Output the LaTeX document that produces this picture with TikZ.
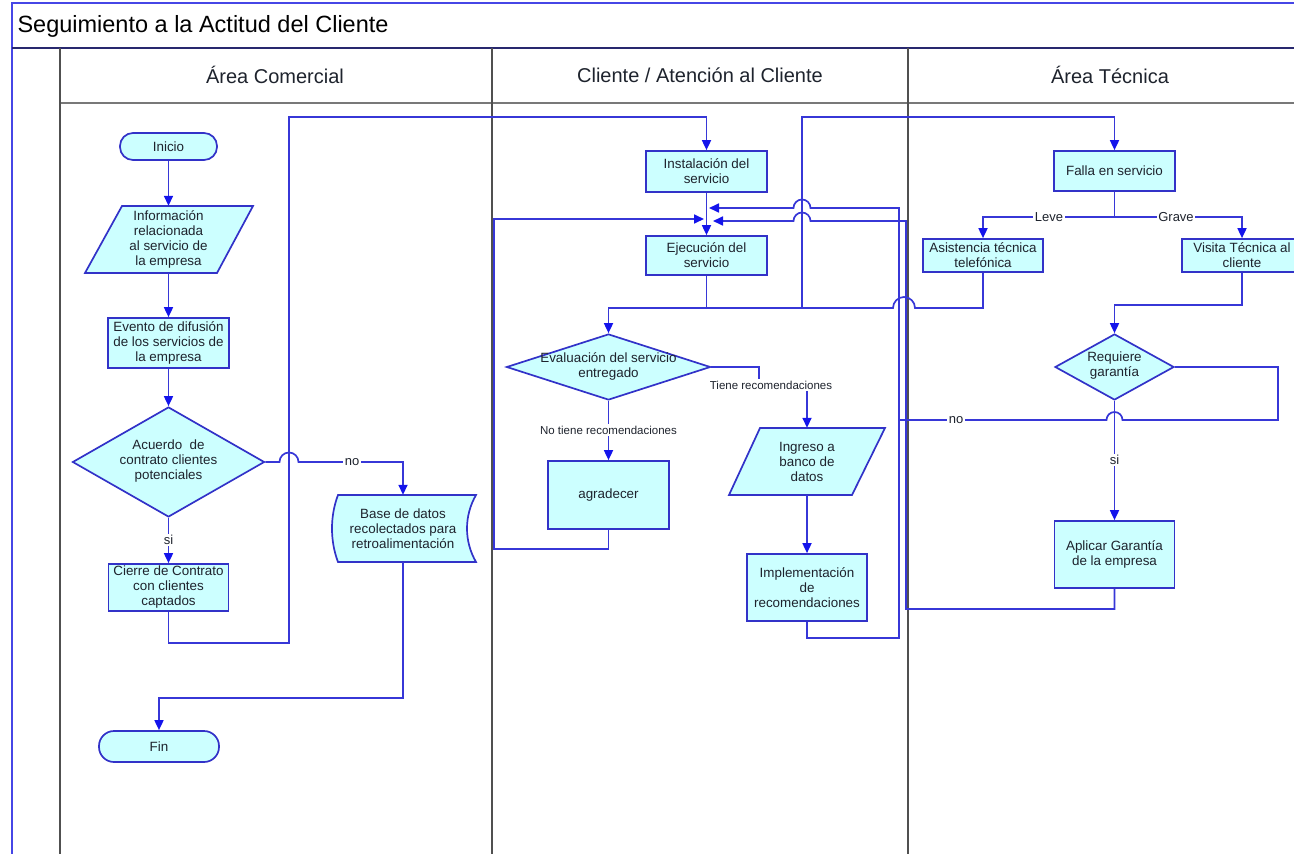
\documentclass[tikz,border=0pt]{standalone}
\usepackage{fontspec}
\setmainfont{Liberation Sans}
\usetikzlibrary{shapes.geometric,arrows.meta,calc}

\definecolor{boxfill}{RGB}{204,255,255}
\definecolor{boxline}{RGB}{50,50,200}
\definecolor{wire}{RGB}{55,55,215}
\definecolor{tipcol}{RGB}{20,20,235}
\definecolor{ink}{RGB}{30,35,45}
\definecolor{lanegray}{RGB}{80,80,80}
\definecolor{headgray}{RGB}{120,120,120}
\definecolor{frameblue}{RGB}{70,70,230}
\definecolor{navy}{RGB}{40,40,110}

\newcommand\boxfont{\fontsize{13.4}{15}\selectfont}
\newcommand\lblfont{\fontsize{13}{15}\selectfont}
\newcommand\smallfont{\fontsize{11.5}{13}\selectfont}

\begin{document}
\begin{tikzpicture}[x=1pt,y=-1pt,
  txt/.style={font=\boxfont, text=ink, align=center, inner sep=0pt},
  box/.style={txt, rectangle, draw=boxline, fill=boxfill, line width=1.7pt},
  term/.style={box, rounded corners=13pt},
  dia/.style={diamond, draw=boxline, fill=boxfill, line width=1.7pt, inner sep=0pt},
  shapeln/.style={draw=boxline, fill=boxfill, line width=1.7pt},
  ln/.style={draw=wire, line width=1.7pt},
  arr/.style={ln, -{Triangle[length=10pt,width=9pt,color=tipcol]}},
  lbl/.style={fill=white, inner sep=1.5pt, font=\lblfont, text=ink},
  slbl/.style={fill=white, inner sep=1.5pt, font=\smallfont, text=ink},
  head/.style={font=\fontsize{20}{23}\selectfont, text=ink}
]
\useasboundingbox (0,0) rectangle (1294,854);
\clip (0,0) rectangle (1294,854);

% ---- frame, title bar and swimlanes ----
\draw[frameblue, line width=1.5pt] (12,870) -- (12,3) -- (1310,3);
\draw[navy, line width=2pt] (12,48) -- (1310,48);
\draw[headgray, line width=1.5pt] (60,103) -- (1310,103);
\draw[lanegray, line width=2pt] (60,48) -- (60,870);
\draw[lanegray, line width=2pt] (492,48) -- (492,870);
\draw[lanegray, line width=2pt] (908,48) -- (908,870);

\node[anchor=west, font=\fontsize{23.5}{26}\selectfont, text=black] (title) at (14,26) {Seguimiento a la Actitud del Cliente};
\node[head] (laneA) at (275,75) {Área Comercial};
\node[head] (laneB) at (700,75) {Cliente / Atención al Cliente};
\node[head] (laneC) at (1110,75) {Área Técnica};

% ---- hand-drawn outlines (parallelograms, stored data) ----
\path[shapeln] (85,273) -- (217,273) -- (253,206) -- (122,206) -- cycle;
\path[shapeln] (729,495) -- (852,495) -- (885,428) -- (760,428) -- cycle;
\path[shapeln] (338,495) -- (476,495) .. controls (464,516) and (464,541) .. (476,562)
   -- (338,562) .. controls (330,541) and (330,516) .. (338,495) -- cycle;

% ---- Área Comercial ----
\node[term, minimum width=97pt, minimum height=27pt] (inicio) at (168.5,146.5) {Inicio};
\node[txt, minimum width=131pt, minimum height=67pt] (info) at (168.5,239.5)
  {Información\\relacionada\\al servicio de\\la empresa};
\node[box, minimum width=121pt, minimum height=50pt] (evento) at (168.5,343)
  {Evento de difusión\\de los servicios de\\la empresa};
\node[dia, minimum width=192pt, minimum height=110pt] (acuerdo) at (168.5,462) {};
\node[txt] (acuerdoT) at (168.5,461) {Acuerdo\ \ de\\contrato clientes\\potenciales};
\node[box, minimum width=120pt, minimum height=47pt] (cierre) at (168.5,587.5)
  {Cierre de Contrato\\con clientes\\captados};
\node[txt, minimum width=130pt, minimum height=67pt] (base) at (403,528.5)
  {Base de datos\\recolectados para\\retroalimentación};
\node[term, rounded corners=15pt, minimum width=120pt, minimum height=31pt] (fin) at (159,746.5) {Fin};

% ---- Cliente / Atención al Cliente ----
\node[box, minimum width=121pt, minimum height=41pt] (inst) at (706.5,171.5) {Instalación del\\servicio};
\node[box, minimum width=121pt, minimum height=39pt] (ejec) at (706.5,255.5) {Ejecución del\\servicio};
\node[dia, minimum width=204pt, minimum height=66pt] (eval) at (608.5,367) {};
\node[txt] (evalT) at (608.5,366.5) {Evaluación del servicio\\entregado};
\node[box, minimum width=121pt, minimum height=68pt] (agr) at (608.5,495) {agradecer};
\node[txt, minimum width=125pt, minimum height=67pt] (ingreso) at (807,461.5) {Ingreso a\\banco de\\datos};
\node[box, minimum width=120pt, minimum height=67pt] (impl) at (807,587.5)
  {Implementación\\de\\recomendaciones};

% ---- Área Técnica ----
\node[box, minimum width=121pt, minimum height=40pt] (falla) at (1114.5,171) {Falla en servicio};
\node[box, minimum width=120pt, minimum height=33pt] (asis) at (983,255.5) {Asistencia técnica\\telefónica};
\node[box, minimum width=120pt, minimum height=33pt] (visita) at (1242,255.5) {Visita Técnica al\\cliente};
\node[dia, minimum width=119pt, minimum height=66pt] (req) at (1114.5,367) {};
\node[txt] (reqT) at (1114.5,366) {Requiere\\garantía};
\node[box, minimum width=120pt, minimum height=67pt] (aplic) at (1114.5,554.5) {Aplicar Garantía\\de la empresa};

% ---- junction points ----
\coordinate (split) at (706.5,308);
\coordinate (inL) at (704,219);
\coordinate (inR1) at (709,208);
\coordinate (inR2) at (713,221);
\coordinate (fork) at (1114.5,217);

% ---- connectors: Área Comercial ----
\draw[arr] (inicio) -- (info.north);
\draw[arr] (info.south) -- (evento);
\draw[arr] (evento) -- (acuerdo.north);
\draw[arr] (acuerdo.south) -- (cierre);
\draw[arr] (acuerdo.east) -- (279.5,462) arc[start angle=180,end angle=0,radius=9.5pt]
   -- (403,462) -- (base.north);
\draw[arr] (base.south) -- (403,698) -| (fin.north);
\draw[arr] (cierre.south) -- (168.5,643) -- (289,643) -- (289,117) -| (inst.north);

% ---- connectors: Cliente ----
\draw[arr] (inst) -- (ejec);
\draw[ln] (ejec) -- (split);
\draw[arr] (split) -| (eval.north);
\draw[arr] (split) -- (802,308) -- (802,117) -| (falla.north);
\draw[arr] (eval.south) -- (agr);
\draw[arr] (agr.south) -- (608.5,549) -- (494,549) -- (494,219) -- (inL);
\draw[arr] (eval.east) -- (759,367) -- (759,385) -- (807,385) -- (ingreso.north);
\draw[arr] (ingreso.south) -- (impl);
\draw[arr] (impl.south) -- (807,638) -- (899,638) -- (899,208)
   -- (810.5,208) arc[start angle=0,end angle=180,radius=8.5pt] -- (inR1);

% ---- connectors: Área Técnica ----
\draw[ln] (falla) -- (fork);
\draw[arr] (fork) -| (asis.north);
\draw[arr] (fork) -| (visita.north);
\draw[ln] (asis.south) -- (983,308) -- (915,308) arc[start angle=0,end angle=180,radius=11pt]
   -- (802,308);
\draw[arr] (visita.south) -- (1242,305) -| (req.north);
\draw[arr] (req.south) -- (aplic);
\draw[ln] (req.east) -- (1278,367) -- (1278,420) -- (1122.5,420)
   arc[start angle=0,end angle=180,radius=8pt] -- (899,420);
\draw[arr] (aplic.south) -- (1114.5,609) -- (906,609) -- (906,221)
   -- (810.5,221) arc[start angle=0,end angle=180,radius=8.5pt] -- (inR2);

% ---- connector labels ----
\node[lbl] (lSi1) at (168.5,540) {si};
\node[lbl] (lNo1) at (352,462) {no};
\node[slbl] (lNoTiene) at (608.5,430) {No tiene recomendaciones};
\node[slbl] (lTiene) at (771,385) {Tiene recomendaciones};
\node[lbl] (lLeve) at (1049,217) {Leve};
\node[lbl] (lGrave) at (1176,217) {Grave};
\node[lbl] (lNo2) at (956,420) {no};
\node[lbl] (lSi2) at (1114.5,460) {si};
\end{tikzpicture}
\end{document}
